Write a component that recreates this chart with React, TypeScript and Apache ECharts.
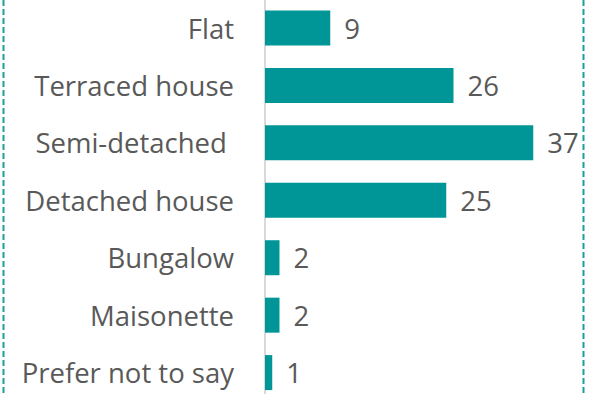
import React, { useEffect, useRef } from "react";
import * as echarts from "echarts";

const categories = [
  "Flat",
  "Terraced house",
  "Semi-detached ",
  "Detached house",
  "Bungalow",
  "Maisonette",
  "Prefer not to say",
];
const values = [9, 26, 37, 25, 2, 2, 1];

const TEAL = "#009596";
const TEXT = "#595959";
const FONT = "Open Sans";
const FONT_SIZE = 27.5;

export default function App() {
  const ref = useRef<HTMLDivElement>(null);

  useEffect(() => {
    if (!ref.current) return;
    const chart = echarts.init(ref.current, null, { renderer: "svg" });
    chart.setOption({
      animation: false,
      grid: {
        left: 265,
        top: -0.7,
        width: 290,
        height: 402,
        containLabel: false,
        outerBoundsMode: "none",
      },
      xAxis: {
        type: "value",
        min: 0,
        max: 40,
        show: false,
      },
      yAxis: {
        type: "category",
        data: categories,
        inverse: true,
        axisLine: { show: true, lineStyle: { color: "#d9d9d9", width: 2 } },
        axisTick: { show: false },
        axisLabel: {
          color: TEXT,
          fontFamily: FONT,
          fontSize: FONT_SIZE,
          margin: 31,
        },
      },
      series: [
        {
          type: "bar",
          data: values,
          barWidth: 35,
          itemStyle: { color: TEAL },
          label: {
            show: true,
            position: "right",
            distance: 14,
            color: TEXT,
            fontFamily: FONT,
            fontSize: FONT_SIZE,
          },
        },
      ],
      graphic: [
        {
          type: "line",
          shape: { x1: 3.5, y1: 0, x2: 3.5, y2: 394 },
          style: { stroke: "#1a9e9e", lineWidth: 2, lineDash: [6, 3] },
        },
        {
          type: "line",
          shape: { x1: 583.5, y1: 0, x2: 583.5, y2: 394 },
          style: { stroke: "#1a9e9e", lineWidth: 2, lineDash: [6, 3] },
        },
      ],
    });
    return () => chart.dispose();
  }, []);

  return (
    <div
      ref={ref}
      style={{ width: 594, height: 394, position: "absolute", left: 0, top: 0, background: "#fff" }}
    />
  );
}
